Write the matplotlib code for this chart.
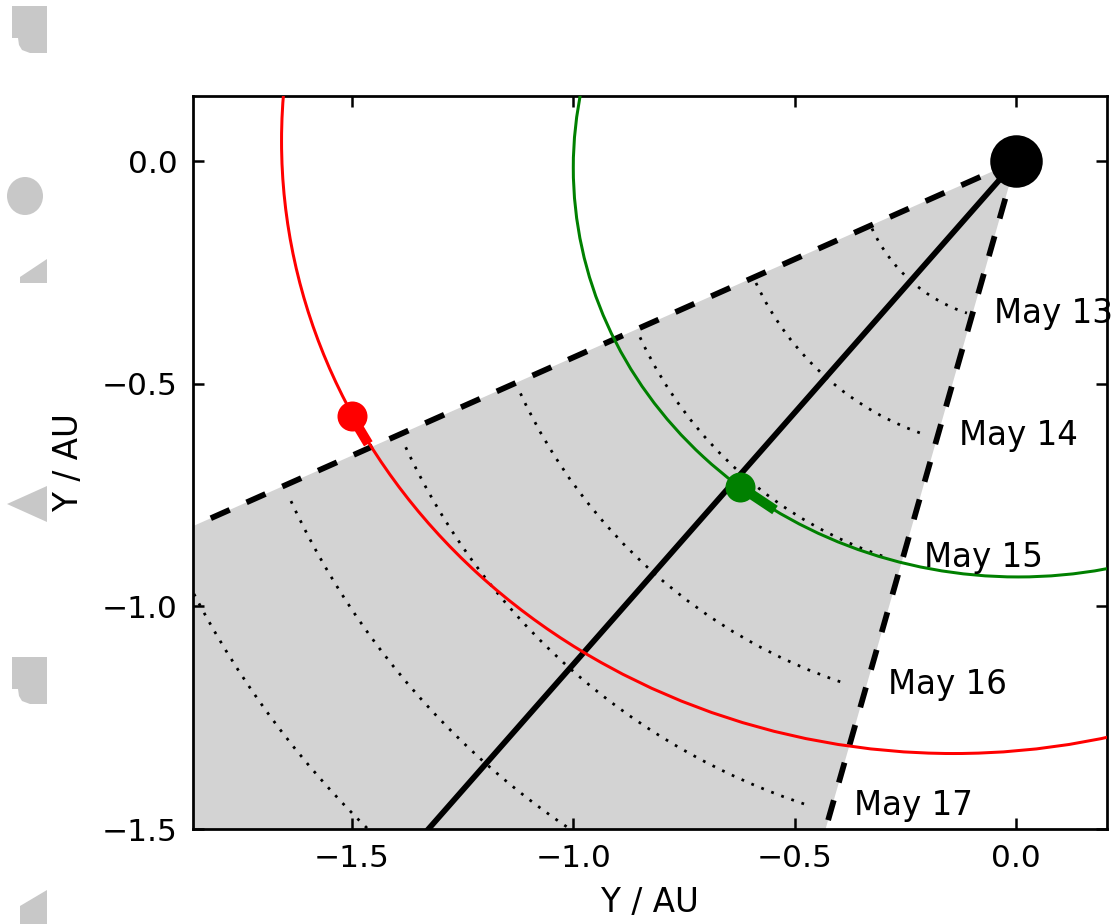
import numpy as np
import matplotlib
matplotlib.use("Agg")
import matplotlib.pyplot as plt
from matplotlib import patches

# CME cone, angles in degrees from +x
cone_edges = [203.8, 254.0]
cone_axis = 228.5
edge_length = 2.0

# front position at each day (AU)
front_radii = [0.359, 0.648, 0.937, 1.235, 1.521, 1.807, 2.096]
front_labels = ["May 13", "May 14", "May 15", "May 16", "May 17"]
front_span = [205.0, 252.0]

# orbits (centre, semi-axes) and positions
red_center = (-0.141, 0.045)
red_axes = (1.518, 1.3755)
green_center = (0.005, -0.015)
green_axes = (1.005, 0.919)

red_pos = (-1.5006, -0.5727)
red_track = (-1.463, -0.635)
green_pos = (-0.6234, -0.7314)
green_track = (-0.5444, -0.7837)

xticks = [-1.5, -1.0, -0.5, 0.0]
yticks = [0.0, -0.5, -1.0, -1.5]

plt.rcParams.update({
    "font.family": "DejaVu Sans",
    "font.size": 12,
    "axes.linewidth": 1.1,
    "xtick.direction": "in",
    "ytick.direction": "in",
    "xtick.top": True,
    "ytick.right": True,
    "xtick.major.size": 4.5,
    "ytick.major.size": 4.5,
    "xtick.major.width": 1.0,
    "ytick.major.width": 1.0,
    "xtick.major.pad": 6,
    "ytick.major.pad": 6,
    "xtick.labelsize": 12.5,
    "ytick.labelsize": 12.5,
    "axes.labelsize": 13,
})

W, H = 1114, 924
fig = plt.figure(figsize=(W / 180, H / 180), dpi=180, facecolor="white")
ax = fig.add_axes([193 / W, 1 - 829 / H, (1107 - 193) / W, (829 - 96) / H])


# grey fragments cut off at the left border
def fpx(pts):
    return [(x / W, 1 - y / H) for x, y in pts]


frag_color = "#c8c8c8"
frags = [
    [(12, 6), (47, 6), (47, 53), (30, 53), (22, 50), (19, 45), (18, 38), (12, 38)],
    [(20, 277), (47, 259), (47, 283), (20, 283)],
    [(7, 504), (47, 486), (47, 522)],
    [(12, 657), (47, 657), (47, 704), (30, 704), (22, 701), (19, 696), (18, 689), (12, 689)],
    [(20, 906), (47, 890), (47, 924), (20, 924)],
]
for pts in frags:
    fig.add_artist(patches.Polygon(fpx(pts), closed=True, fc=frag_color, ec="none",
                                   transform=fig.transFigure))
fig.add_artist(patches.Ellipse((25 / W, 1 - 196 / H), 36 / W, 38 / H, fc=frag_color, ec="none",
                               transform=fig.transFigure))

# cone
ax.add_patch(patches.Wedge((0, 0), 3.0, cone_edges[0], cone_edges[1],
                           fc="lightgray", ec="none", zorder=0))

for r in front_radii:
    ax.add_patch(patches.Arc((0, 0), 2 * r, 2 * r, theta1=front_span[0], theta2=front_span[1],
                             color="black", lw=1.1, ls=(0, (1, 2.9)), zorder=1))

for th in cone_edges:
    t = np.radians(th)
    ax.plot([0, edge_length * np.cos(t)], [0, edge_length * np.sin(t)], color="black",
            lw=2.3, dashes=(3.6, 3.2), zorder=2)

t = np.radians(cone_axis)
ax.plot([0, 3 * np.cos(t)], [0, 3 * np.sin(t)], color="black", lw=2.3, zorder=2)

# orbits
ax.add_patch(patches.Ellipse(red_center, 2 * red_axes[0], 2 * red_axes[1],
                             fill=False, ec="red", lw=1.2, zorder=3))
ax.add_patch(patches.Ellipse(green_center, 2 * green_axes[0], 2 * green_axes[1],
                             fill=False, ec="green", lw=1.2, zorder=3))

ax.plot([red_pos[0], red_track[0]], [red_pos[1], red_track[1]], color="red", lw=4,
        solid_capstyle="butt", zorder=4)
ax.plot([green_pos[0], green_track[0]], [green_pos[1], green_track[1]], color="green", lw=4,
        solid_capstyle="butt", zorder=4)
ax.plot(*red_pos, "o", color="red", mec="red", ms=11, zorder=5)
ax.plot(*green_pos, "o", color="green", mec="green", ms=11, zorder=5)
ax.plot(0, 0, "o", color="black", ms=20, zorder=5)

# day labels next to the lower cone edge
t_end = np.radians(front_span[1])
t_edge = np.radians(cone_edges[1])
for r, lab in zip(front_radii, front_labels):
    y = r * np.sin(t_end)
    x = y / np.tan(t_edge)
    ax.annotate(lab, (x, y), xytext=(8.6, 0), textcoords="offset points",
                ha="left", va="center", fontsize=13, zorder=6)

ax.set_xlim(-1.859, 0.2055)
ax.set_ylim(-1.5, 0.146)
ax.set_xticks(xticks)
ax.set_yticks(yticks)
ax.set_xlabel("Y / AU", labelpad=5)
ax.set_ylabel("Y / AU", labelpad=7)

fig.savefig("out.png", dpi=180, facecolor="white")
